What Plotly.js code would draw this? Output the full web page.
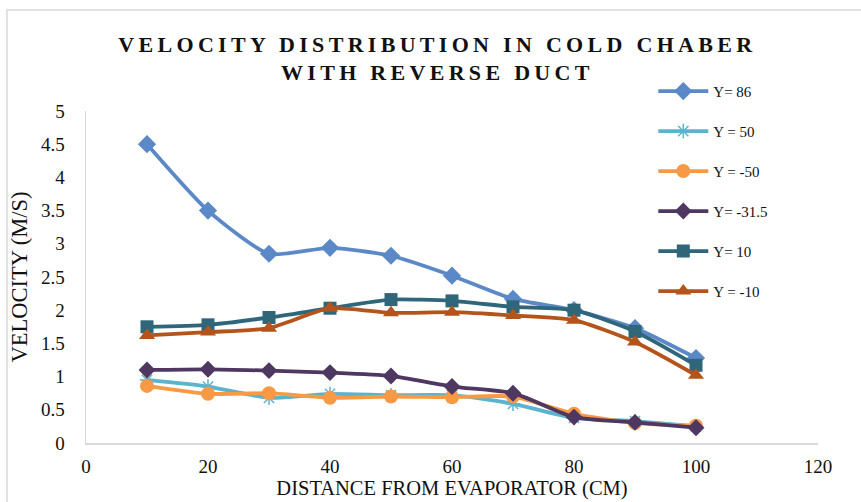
<!DOCTYPE html>
<html>
<head>
<meta charset="utf-8">
<script src="https://cdn.plot.ly/plotly-3.0.1.min.js"></script>
<style>
html,body{margin:0;padding:0;background:#fff;}
#chart{width:861px;height:502px;}
.gtitle{letter-spacing:4.3px;}
</style>
</head>
<body>
<div id="chart"></div>
<script>
var distance = [10, 20, 30, 40, 50, 60, 70, 80, 90, 100];
var seriesNames = ["Y= 86", "Y = 50", "Y = -50", "Y= -31.5", "Y= 10", "Y = -10"];
var y86   = [4.50, 3.50, 2.85, 2.94, 2.82, 2.52, 2.17, 2.00, 1.73, 1.28];
var y50   = [0.95, 0.85, 0.68, 0.74, 0.72, 0.72, 0.59, 0.38, 0.33, 0.25];
var yM50  = [0.86, 0.74, 0.75, 0.68, 0.70, 0.69, 0.70, 0.44, 0.30, 0.26];
var yM315 = [1.10, 1.11, 1.09, 1.06, 1.01, 0.85, 0.75, 0.39, 0.31, 0.23];
var y10   = [1.75, 1.78, 1.89, 2.03, 2.16, 2.14, 2.05, 2.00, 1.68, 1.17];
var yM10  = [1.62, 1.67, 1.73, 2.03, 1.96, 1.97, 1.92, 1.85, 1.52, 1.02];
var xTicks = [0, 20, 40, 60, 80, 100, 120];
var yTicks = [0, 0.5, 1, 1.5, 2, 2.5, 3, 3.5, 4, 4.5, 5];
var yTickText = ["0", "0.5", "1", "1.5", "2", "2.5", "3", "3.5", "4", "4.5", "5"];

var values = [y86, y50, yM50, yM315, y10, yM10];
var colors = ["#5B88C6", "#5CB3CD", "#F89A45", "#4E3760", "#2F6679", "#B5541A"];
var symbols = ["diamond", "asterisk-open", "circle", "diamond", "square", "triangle-up"];
var sizes = [14, 12, 14, 13, 13, 14];

var traces = values.map(function (v, i) {
  var marker = {symbol: symbols[i], size: sizes[i], color: colors[i]};
  if (symbols[i] === "asterisk-open") {
    marker.line = {color: colors[i], width: 1.5};
  }
  return {
    x: distance,
    y: v,
    name: seriesNames[i],
    type: "scatter",
    mode: "lines+markers",
    line: {color: colors[i], width: 3.8, shape: "spline", smoothing: 0.6},
    marker: marker,
    legendgroup: "g" + i
  };
});

var serif = "'Liberation Serif', 'Times New Roman', serif";

var layout = {
  width: 861,
  height: 502,
  margin: {l: 86, r: 43, t: 111, b: 59},
  paper_bgcolor: "#ffffff",
  plot_bgcolor: "#ffffff",
  font: {family: serif, color: "#111111"},
  showlegend: true,
  title: {
    text: "<b>VELOCITY DISTRIBUTION IN COLD CHABER<br>WITH REVERSE DUCT</b>",
    font: {family: serif, size: 22, color: "#111111"},
    x: 0.508, xanchor: "center",
    y: 0.897, yanchor: "middle"
  },
  xaxis: {
    range: [0, 120],
    tickvals: xTicks,
    ticktext: xTicks.map(String),
    showgrid: false,
    zeroline: false,
    showline: true,
    linecolor: "#D9D9D9",
    linewidth: 1.5,
    ticks: "",
    ticklabelstandoff: 6,
    tickfont: {family: serif, size: 19, color: "#111111"},
    title: {text: "DISTANCE FROM EVAPORATOR (CM)", font: {family: serif, size: 20.5, color: "#111111"}, standoff: 4}
  },
  yaxis: {
    range: [0, 5],
    tickvals: yTicks,
    ticktext: yTickText,
    showgrid: false,
    zeroline: false,
    showline: true,
    linecolor: "#D9D9D9",
    linewidth: 1.5,
    ticks: "",
    ticklabelstandoff: 16,
    tickfont: {family: serif, size: 19, color: "#111111"},
    title: {text: "VELOCITY (M/S)", font: {family: serif, size: 22.5, color: "#111111"}, standoff: 7}
  },
  legend: {
    x: 0.775, xanchor: "left",
    y: 1.109, yanchor: "top",
    font: {family: serif, size: 15, color: "#111111"},
    bgcolor: "rgba(0,0,0,0)",
    tracegroupgap: 17.5,
    itemwidth: 50
  },
  shapes: [{
    type: "rect", xref: "paper", yref: "paper",
    x0: -0.108, x1: 1.2, y0: -0.3, y1: 1.304,
    line: {color: "#D9D9D9", width: 1.5},
    fillcolor: "rgba(0,0,0,0)",
    layer: "below"
  }]
};

Plotly.newPlot("chart", traces, layout, {displayModeBar: false, staticPlot: true});
</script>
</body>
</html>
